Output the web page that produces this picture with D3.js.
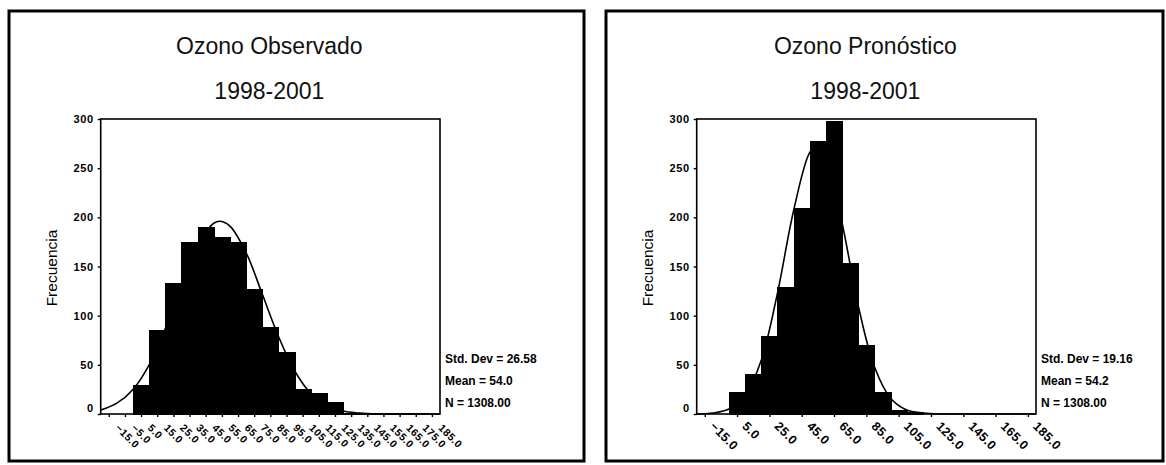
<!DOCTYPE html>
<html><head><meta charset="utf-8">
<script src="https://cdn.jsdelivr.net/npm/d3@7"></script>
<style>body{margin:0;background:#fff}svg{display:block}</style>
</head><body>
<svg id="c" width="1166" height="465"></svg>
<script>
// ---- data ----
const binStartsObs = [0,10,20,30,40,50,60,70,80,90,100,110,120,130,140,150,160,170];
const countsObs    = [29,85,133,175,190,180,175,127,88,63,25,21,12,1,1,1,1,1];
const binStartsPro = [0,10,20,30,40,50,60,70,80,90,100,110];
const countsPro    = [22,41,79,129,209,278,298,154,70,22,4,2];
const binWidth = 10;

const curveXObs = [-20,-10,0,10,20,30,40,50,54,60,70,80,90,100,110,120,130,140,150,160,170,180,190];
const curveYObs = [4,11,25,50,87,131,171,194,196,191,164,122,79,44,21,9,3,1,0,0,0,0,0];
const curveXPro = [-20,-10,0,10,20,30,40,50,54.2,60,70,80,90,100,110,120,130,140,150,160,170,180,190];
const curveYPro = [0,1,5,19,55,123,207,266,272,260,194,110,48,16,4,1,0,0,0,0,0,0,0];

const yTicks = [0,50,100,150,200,250,300];
const xTicksObs = [-15,-5,5,15,25,35,45,55,65,75,85,95,105,115,125,135,145,155,165,175,185];
const xTicksPro = [-15,5,25,45,65,85,105,125,145,165,185];

const titlesObs = ["Ozono Observado","1998-2001"];
const titlesPro = ["Ozono Pronóstico","1998-2001"];
const statsObs = ["Std. Dev = 26.58","Mean = 54.0","N = 1308.00"];
const statsPro = ["Std. Dev = 19.16","Mean = 54.2","N = 1308.00"];
const yLabel = "Frecuencia";
const xDomain = [-20,190];
const yDomain = [0,300];

// ---- drawing ----
const FONT = "'Liberation Sans', Arial, Helvetica, sans-serif";
const svg = d3.select("#c");
svg.append("rect").attr("width",1166).attr("height",465).attr("fill","#fff");

const panels = [
  {off:0, frame:[9,11,584,461], starts:binStartsObs, counts:countsObs, cx:curveXObs, cy:curveYObs,
   xt:xTicksObs, titles:titlesObs, stats:statsObs, xfs:10.5, lab:[8,12]},
  {off:596, frame:[606,11,1163,461], starts:binStartsPro, counts:countsPro, cx:curveXPro, cy:curveYPro,
   xt:xTicksPro, titles:titlesPro, stats:statsPro, xfs:12.5, lab:[7,10]}
];

panels.forEach(p => {
  const L = 100.7 + p.off, R = 440 + p.off, T = 119, B = 414;
  const x = d3.scaleLinear().domain(xDomain).range([L,R]);
  const y = d3.scaleLinear().domain(yDomain).range([B,T]);
  const g = svg.append("g");

  // outer panel frame
  g.append("rect").attr("x",p.frame[0]).attr("y",p.frame[1])
    .attr("width",p.frame[2]-p.frame[0]).attr("height",p.frame[3]-p.frame[1])
    .attr("fill","none").attr("stroke","#000").attr("stroke-width",3);

  // titles
  g.selectAll("text.title").data(p.titles).join("text").attr("class","title")
    .attr("x",(L+R)/2 - 1).attr("y",(d,i)=> i===0 ? 54 : 98.5)
    .attr("text-anchor","middle").attr("font-family",FONT).attr("font-size",23)
    .attr("fill","#111").text(d=>d);

  // bars
  g.selectAll("rect.bar").data(p.counts).join("rect").attr("class","bar")
    .attr("x",(d,i)=>Math.round(x(p.starts[i])))
    .attr("width",(d,i)=>Math.round(x(p.starts[i]+binWidth))-Math.round(x(p.starts[i])))
    .attr("y",d=>Math.round(y(d))).attr("height",d=>Math.round(y(0))-Math.round(y(d)))
    .attr("fill","#000").attr("stroke","#000").attr("stroke-width",1)
    .attr("shape-rendering","crispEdges");

  // normal curve
  const line = d3.line().x(d=>x(d[0])).y(d=>y(d[1])).curve(d3.curveCatmullRom.alpha(0.5));
  g.append("path").datum(p.cx.map((v,i)=>[v,p.cy[i]])).attr("d",line)
    .attr("fill","none").attr("stroke","#000").attr("stroke-width",1.6);

  // plot frame
  g.append("rect").attr("x",L).attr("y",T).attr("width",R-L).attr("height",B-T)
    .attr("fill","none").attr("stroke","#000").attr("stroke-width",1.6);

  // y axis
  const ya = g.append("g").attr("transform",`translate(${L},0)`)
    .call(d3.axisLeft(y).tickValues(yTicks).tickSize(3).tickPadding(4));
  ya.select(".domain").remove();
  ya.selectAll("line").attr("stroke","#000").attr("stroke-width",1.4);
  ya.selectAll("text").attr("font-family",FONT).attr("font-size",11).attr("font-weight","bold")
    .attr("letter-spacing","0.6px").attr("fill","#000")
    .attr("dy",d=> d===0 ? "-0.25em" : "0.32em");

  // x axis
  const xa = g.append("g").attr("transform",`translate(0,${B})`)
    .call(d3.axisBottom(x).tickValues(p.xt).tickSize(3).tickFormat(d3.format(".1f")));
  xa.select(".domain").remove();
  xa.selectAll("line").attr("stroke","#000").attr("stroke-width",1.4);
  xa.selectAll("text").attr("font-family",FONT).attr("font-size",p.xfs).attr("font-weight","bold")
    .attr("letter-spacing","0.4px").attr("fill","#000")
    .attr("x",0).attr("y",0).attr("dy","0.35em")
    .attr("transform",`translate(${p.lab[0]},${p.lab[1]}) rotate(45)`)
    .style("text-anchor","start");

  // y label
  g.append("text").attr("transform",`translate(${L-44},${268}) rotate(-90)`)
    .attr("text-anchor","middle").attr("font-family",FONT).attr("font-size",15.5)
    .attr("fill","#000").text(yLabel);

  // stats
  g.selectAll("text.stat").data(p.stats).join("text").attr("class","stat")
    .attr("x",R+5).attr("y",(d,i)=>363 + i*22)
    .attr("font-family",FONT).attr("font-size",12).attr("font-weight","bold")
    .attr("fill","#000").text(d=>d);
});
</script>
</body></html>
